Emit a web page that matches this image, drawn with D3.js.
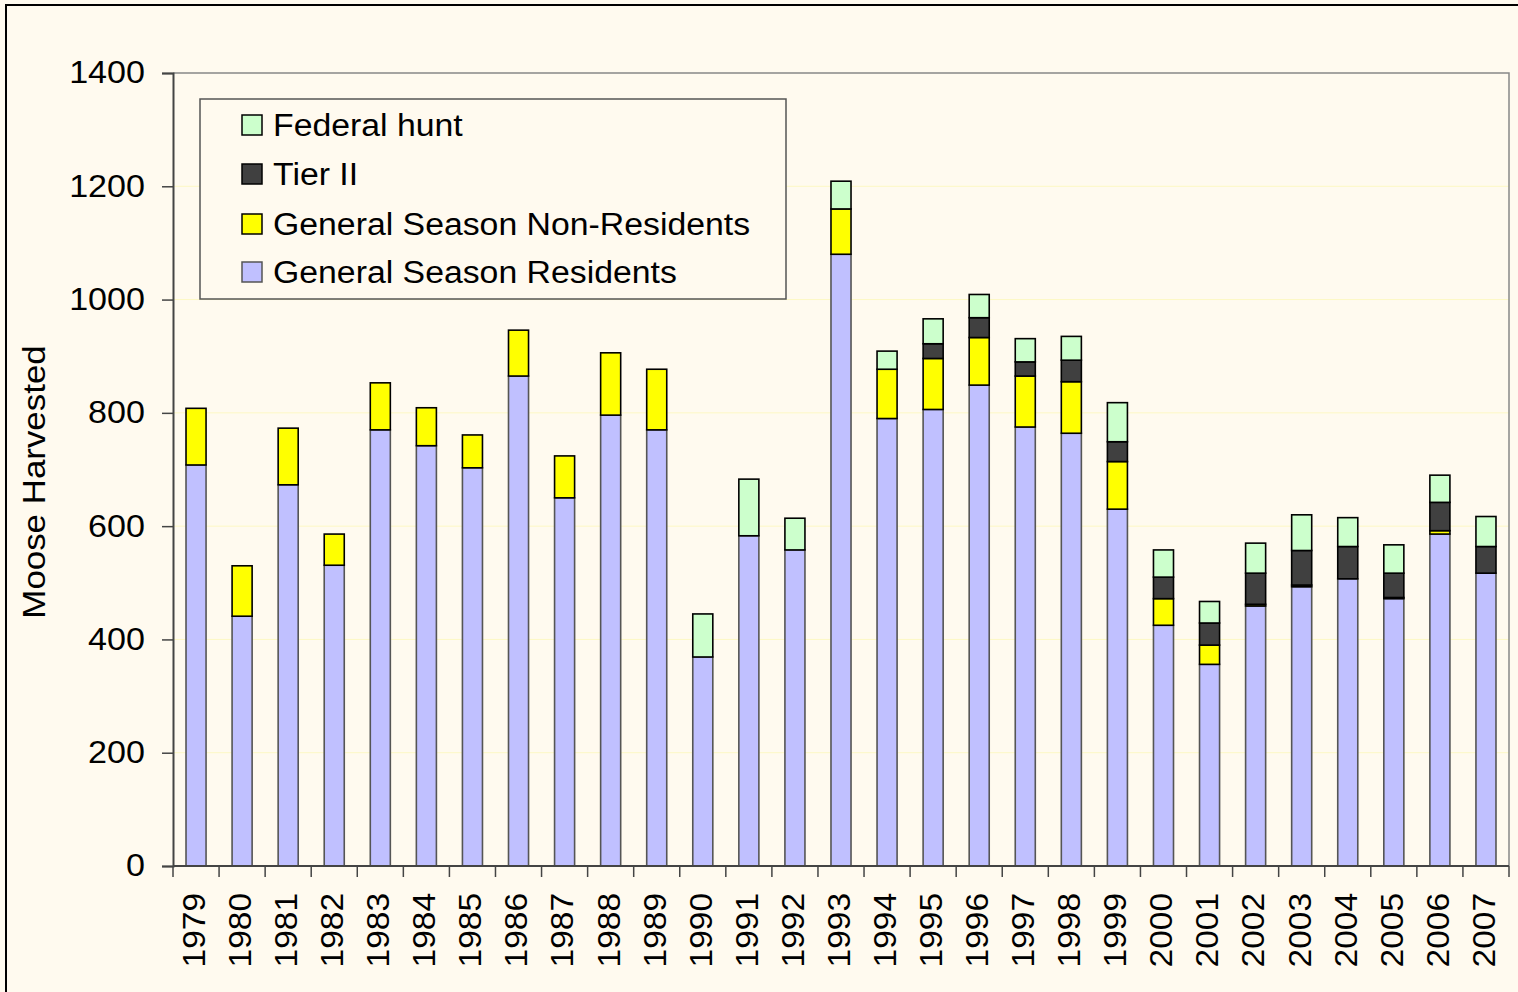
<!DOCTYPE html>
<html>
<head>
<meta charset="utf-8">
<script src="https://cdn.jsdelivr.net/npm/d3@7"></script>
<style>
  body { margin: 0; background: #fffaef; }
  svg { display: block; font-family: "Liberation Sans", Arial, sans-serif; }
</style>
</head>
<body>
<svg id="chart" width="1518" height="992"></svg>
<script>
// values
const years = [1979,1980,1981,1982,1983,1984,1985,1986,1987,1988,1989,1990,1991,1992,1993,
  1994,1995,1996,1997,1998,1999,2000,2001,2002,2003,2004,2005,2006,2007];
const residents = [708,441,673,531,770,742,703,865,650,796,770,369,583,558,1080,
  790,806,849,775,764,630,425,356,459,493,507,472,586,517];
const nonResidents = [100,89,100,55,83,67,58,81,74,110,107,0,0,0,80,
  87,90,84,90,91,84,47,34,3,3,0,2,6,0];
const tierII = [0,0,0,0,0,0,0,0,0,0,0,0,0,0,0,
  0,26,35,25,38,35,38,39,55,61,57,43,50,47];
const federal = [0,0,0,0,0,0,0,0,0,0,0,76,100,56,49,
  32,44,41,41,42,69,48,38,53,63,51,50,48,53];
const yTicks = [0,200,400,600,800,1000,1200,1400];

const keys = ["res", "nonres", "tier", "fed"];
const names = {res: "General Season Residents", nonres: "General Season Non-Residents", tier: "Tier II", fed: "Federal hunt"};
const colors = {res: "#c0c0ff", nonres: "#ffff00", tier: "#404040", fed: "#ccffcc"};

const rows = years.map((y, i) => ({year: y, res: residents[i], nonres: nonResidents[i], tier: tierII[i], fed: federal[i]}));

const plotL = 173, plotR = 1509, plotT = 73, plotB = 866;
const svg = d3.select("#chart");

// the original text is a bit wider than Arial, stretch it
function widen(sel, k) {
  sel.each(function() {
    const w = this.getComputedTextLength();
    d3.select(this).attr("textLength", w * k).attr("lengthAdjust", "spacingAndGlyphs");
  });
}

// outer frame
svg.append("rect").attr("x", 6).attr("y", 5).attr("width", 1540).attr("height", 1000)
  .attr("fill", "#fffaef").attr("stroke", "#000").attr("stroke-width", 2);

const x = d3.scaleBand().domain(years).range([plotL, plotR]).padding(0);
const y = d3.scaleLinear().domain([0, 1400]).range([plotB, plotT]);

// gridlines
svg.append("g").selectAll("line").data(yTicks.slice(1, -1)).join("line")
  .attr("x1", plotL).attr("x2", plotR)
  .attr("y1", d => y(d)).attr("y2", d => y(d))
  .attr("stroke", "#fdf8c4").attr("stroke-width", 1);

// plot frame top/right
svg.append("path")
  .attr("d", `M${plotL},${y(1400)}H${plotR}V${plotB}`)
  .attr("fill", "none").attr("stroke", "#888").attr("stroke-width", 1.5);

// bars
const stack = d3.stack().keys(keys)(rows);
const bw = x.bandwidth() * 0.435;
svg.append("g").selectAll("g").data(stack).join("g")
  .attr("fill", d => colors[d.key])
  .attr("stroke", d => d.key === "res" ? "#555" : "#000")
  .attr("stroke-width", 1.6)
  .selectAll("rect").data(d => d.filter(s => s[1] - s[0] > 0)).join("rect")
  .attr("x", d => x(d.data.year) + (x.bandwidth() - bw) / 2)
  .attr("y", d => y(d[1]))
  .attr("width", bw)
  .attr("height", d => y(d[0]) - y(d[1]));

// y axis
const yAxis = svg.append("g").attr("transform", `translate(${plotL},0)`)
  .call(d3.axisLeft(y).tickValues(yTicks).tickSize(11).tickPadding(17).tickFormat(d3.format("d")));
yAxis.select(".domain").attr("stroke", "#444").attr("stroke-width", 2);
yAxis.selectAll(".tick line").attr("stroke", "#444").attr("stroke-width", 1.5);
yAxis.selectAll("text").attr("font-size", 31).attr("fill", "#000")
  .attr("font-family", "Liberation Sans, Arial, sans-serif")
  .call(widen, 1.1);

// x axis: ticks at category boundaries, labels rotated
const xAxis = svg.append("g").attr("transform", `translate(0,${plotB})`);
xAxis.append("line").attr("x1", plotL).attr("x2", plotR).attr("stroke", "#444").attr("stroke-width", 2);
const bounds = years.map(d => x(d)).concat([plotR]);
xAxis.selectAll("line.tk").data(bounds).join("line").attr("class", "tk")
  .attr("x1", d => d).attr("x2", d => d).attr("y1", 0).attr("y2", 11)
  .attr("stroke", "#444").attr("stroke-width", 1.5);
xAxis.selectAll("text").data(years).join("text")
  .attr("transform", "rotate(-90)")
  .attr("x", -27)
  .attr("y", d => x(d) + x.bandwidth() / 2 - 2)
  .attr("dy", "0.35em")
  .attr("text-anchor", "end")
  .attr("font-size", 31)
  .text(d => d)
  .call(widen, 1.08);

// y title
svg.append("text")
  .attr("transform", "translate(34,482) rotate(-90)")
  .attr("dy", "0.35em")
  .attr("text-anchor", "middle")
  .attr("font-size", 32)
  .text("Moose Harvested")
  .call(widen, 1.09);

// legend
const lg = svg.append("g");
lg.append("rect").attr("x", 200).attr("y", 99).attr("width", 586).attr("height", 200)
  .attr("fill", "#fffaef").attr("stroke", "#555").attr("stroke-width", 1.5);
const legendKeys = ["fed", "tier", "nonres", "res"];
const ly = [125, 174, 224, 272];
const item = lg.selectAll("g").data(legendKeys).join("g")
  .attr("transform", (d, i) => `translate(242,${ly[i]})`);
item.append("rect").attr("x", 0).attr("y", -10).attr("width", 20).attr("height", 20)
  .attr("fill", d => colors[d]).attr("stroke", d => d === "res" ? "#555" : "#000").attr("stroke-width", 1.5);
item.append("text").attr("x", 31).attr("dy", "0.35em").attr("font-size", 31)
  .text(d => names[d])
  .call(widen, 1.09);
</script>
</body>
</html>
